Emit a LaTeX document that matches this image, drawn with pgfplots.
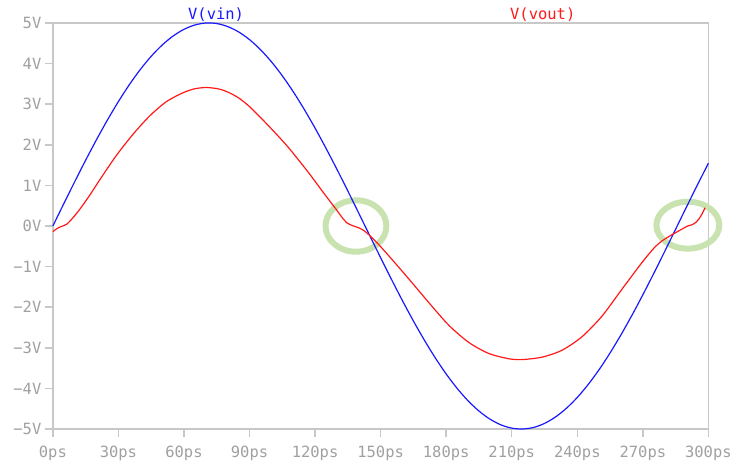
\documentclass[border=0pt]{standalone}
\usepackage{fontspec}
\setmainfont{DejaVu Sans Mono}
\usepackage{pgfplots}
\pgfplotsset{compat=1.18}
\definecolor{axgray}{RGB}{200,200,200}
\definecolor{lblgray}{RGB}{160,160,160}
\definecolor{ringgreen}{RGB}{200,226,176}
\definecolor{vinblue}{RGB}{25,25,255}
\definecolor{voutred}{RGB}{255,25,25}
\begin{document}
\begin{tikzpicture}
\begin{axis}[
  name=ax,
  scale only axis, width=657pt, height=407pt,
  xmin=0, xmax=300, ymin=-5, ymax=5,
  axis line style={draw=axgray, line width=1.5pt},
  xtick={0,30,...,300},
  xticklabels={0ps,30ps,60ps,90ps,120ps,150ps,180ps,210ps,240ps,270ps,300ps},
  ytick={-5,-4,...,5},
  yticklabels={−5V,−4V,−3V,−2V,−1V,0V,1V,2V,3V,4V,5V},
  tick align=outside,
  xtick pos=bottom, ytick pos=left,
  major tick length=8pt,
  tick style={axgray, line width=1.5pt},
  ticklabel style={font=\fontsize{15.5}{18}\selectfont, text=lblgray},
  xticklabel style={yshift=-6pt},
  clip=false,
]
\draw[ringgreen, line width=6pt] (axis cs:138.7,0) ellipse [x radius=30.5pt, y radius=25.8pt];
\draw[ringgreen, line width=6pt] (axis cs:290.6,0.02) ellipse [x radius=31.5pt, y radius=23.5pt];

\addplot[vinblue, line width=1.2pt, smooth] coordinates {
(0,0) (5,0.549) (10,1.091) (15,1.620) (20,2.129) (25,2.612) (30,3.065) (35,3.480)
(40,3.853) (45,4.179) (50,4.455) (55,4.677) (60,4.843) (65,4.950) (70,4.998)
(75,4.985) (80,4.911) (85,4.779) (90,4.589) (95,4.343) (100,4.045) (105,3.698)
(110,3.307) (115,2.875) (120,2.409) (125,1.913) (130,1.395) (135,0.860) (140,0.314)
(145,-0.236) (150,-0.782) (155,-1.319) (160,-1.841) (165,-2.340) (170,-2.810)
(175,-3.247) (180,-3.645) (185,-3.998) (190,-4.304) (195,-4.557) (200,-4.755)
(205,-4.896) (210,-4.978) (215,-4.999) (220,-4.961) (225,-4.862) (230,-4.704)
(235,-4.490) (240,-4.222) (245,-3.902) (250,-3.536) (255,-3.126) (260,-2.679)
(265,-2.200) (270,-1.694) (275,-1.167) (280,-0.627) (285,-0.079) (290,0.471)
(295,1.014) (300,1.545)
};

\addplot[voutred, line width=1.2pt, smooth, tension=0.45] coordinates {
(0,-0.14) (1.7,-0.07) (3.5,-0.02) (5,0.01) (6.5,0.05) (8.5,0.16) (12.3,0.41)
(16.9,0.76) (21.5,1.14) (29.1,1.74) (36.7,2.26) (44.3,2.71) (51.9,3.06)
(59.5,3.28) (65,3.38) (70.5,3.41) (76.3,3.37) (80.8,3.28) (85.4,3.14) (90,2.94)
(94.5,2.70) (99,2.45) (103.7,2.18) (108,1.92) (112.8,1.60) (117.5,1.28) (121.9,0.96)
(125.8,0.68) (129.5,0.42) (132.2,0.22) (134.5,0.08) (137.1,0.01) (140.2,-0.05)
(142.5,-0.12) (144.7,-0.22) (149,-0.45) (154.3,-0.77)
(163.0,-1.31) (172.1,-1.89) (181.3,-2.45) (190.4,-2.87) (199.5,-3.14)
(208.7,-3.27) (214.7,-3.29) (223.9,-3.23) (233.0,-3.06) (242.1,-2.73)
(251.3,-2.22) (260.4,-1.56) (269.6,-0.90) (275,-0.55) (278.7,-0.37) (283.5,-0.21)
(287.8,-0.08) (290.5,0.0) (292.5,0.03) (294.5,0.10) (296.5,0.24) (298.5,0.45)
};

\node[anchor=base, text=vinblue, font=\fontsize{15.5}{18}\selectfont, yshift=3.5pt] at (axis cs:74.7,5) {V(vin)};
\node[anchor=base, text=voutred, font=\fontsize{15.5}{18}\selectfont, yshift=3.5pt] at (axis cs:224.2,5) {V(vout)};
\end{axis}
\path ([shift={(-53pt,-31pt)}]ax.south west) rectangle ([shift={(25pt,23pt)}]ax.north east);
\end{tikzpicture}
\end{document}
